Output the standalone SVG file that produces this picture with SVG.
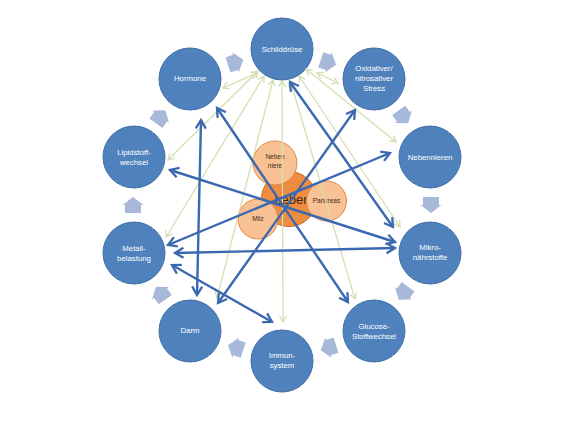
<svg xmlns="http://www.w3.org/2000/svg" width="576" height="432" viewBox="0 0 576 432">
<style>
.node{fill:#4f81bd;stroke:#416fa8;stroke-width:1}
.nt{font-family:"Liberation Sans",Arial,sans-serif;font-size:7.8px;fill:#ffffff;text-anchor:middle}
.ct{font-family:"Liberation Sans",Arial,sans-serif;font-size:6.5px;fill:#3a2a1a;text-anchor:middle}
.small{fill:#f9c294;stroke:#e08a48;stroke-width:1}
.blk{fill:#a7b8d9}
.bl{stroke:#3b69b1;stroke-width:2.4;fill:none;marker-start:url(#bh);marker-end:url(#bh)}
.gl{stroke:#d2dfb3;stroke-width:1.3;fill:none;marker-start:url(#gh);marker-end:url(#gh)}
</style>
<defs>
<marker id="bh" viewBox="-11 -7 14 14" refX="0" refY="0" markerWidth="14" markerHeight="14" markerUnits="userSpaceOnUse" orient="auto-start-reverse">
<path d="M-8.5,-5 L0,0 L-8.5,5" fill="none" stroke="#3b69b1" stroke-width="2.3"/>
</marker>
<marker id="gh" viewBox="-8 -5 10 10" refX="0" refY="0" markerWidth="10" markerHeight="10" markerUnits="userSpaceOnUse" orient="auto-start-reverse">
<path d="M-6,-3.5 L0,0 L-6,3.5" fill="none" stroke="#d2dfb3" stroke-width="1.3"/>
</marker>
<path id="ba" d="M-8,-8 L0,-8 L0,-10.5 L8,0 L0,10.5 L0,8 L-8,8 Z"/>
</defs>
<rect width="576" height="432" fill="#ffffff"/>

<g id="cycle-arrows" class="blk">
<use href="#ba" transform="translate(328.4,62.3) rotate(18)"/>
<use href="#ba" transform="translate(403.4,116.8) rotate(54)"/>
<use href="#ba" transform="translate(431,205) rotate(90)"/>
<use href="#ba" transform="translate(403.4,293.2) rotate(126)"/>
<use href="#ba" transform="translate(328.4,347.7) rotate(162)"/>
<use href="#ba" transform="translate(235.6,347.7) rotate(198)"/>
<use href="#ba" transform="translate(160.6,293.2) rotate(234)"/>
<use href="#ba" transform="translate(133,205) rotate(270)"/>
<use href="#ba" transform="translate(160.6,116.8) rotate(306)"/>
<use href="#ba" transform="translate(235.6,62.3) rotate(342)"/>
</g>

<g id="schilddruese"><circle class="node" cx="282" cy="49" r="31"/><text class="nt" x="282" y="51.5">Schilddrüse</text></g>
<g id="oxidativer-stress"><circle class="node" cx="374" cy="79" r="31"/><text class="nt" x="374" y="70.7">Oxidativer/</text><text class="nt" x="374" y="80.7">nitrosativer</text><text class="nt" x="374" y="90.7">Stress</text></g>
<g id="nebennieren"><circle class="node" cx="430" cy="157" r="31"/><text class="nt" x="430" y="159.5">Nebennieren</text></g>
<g id="mikronaehrstoffe"><circle class="node" cx="430" cy="253" r="31"/><text class="nt" x="430" y="249.5">Mikro-</text><text class="nt" x="430" y="260">nährstoffe</text></g>
<g id="glucose-stoffwechsel"><circle class="node" cx="374" cy="331" r="31"/><text class="nt" x="374" y="328.5">Glucose-</text><text class="nt" x="374" y="338.5">Stoffwechsel</text></g>
<g id="immunsystem"><circle class="node" cx="282" cy="361" r="31"/><text class="nt" x="282" y="357.5">Immun-</text><text class="nt" x="282" y="367.5">system</text></g>
<g id="darm"><circle class="node" cx="190" cy="331" r="31"/><text class="nt" x="190" y="332.5">Darm</text></g>
<g id="metallbelastung"><circle class="node" cx="134" cy="253" r="31"/><text class="nt" x="134" y="250.5">Metall-</text><text class="nt" x="134" y="260.5">belastung</text></g>
<g id="lipidstoffwechsel"><circle class="node" cx="134" cy="157" r="31"/><text class="nt" x="134" y="154.5">Lipidstoff-</text><text class="nt" x="134" y="164.5">wechsel</text></g>
<g id="hormone"><circle class="node" cx="190" cy="79" r="31"/><text class="nt" x="190" y="80.5">Hormone</text></g>

<g id="leber"><circle cx="289" cy="199" r="27.5" fill="#ef8c3f" stroke="#c9661f" stroke-width="1"/><text x="291" y="203.5" font-family="'Liberation Sans',Arial,sans-serif" font-size="13" fill="#3a2412" text-anchor="middle">Leber</text></g>
<g id="nebenniere"><circle class="small" cx="275" cy="163" r="22"/><text class="ct" x="275" y="158.5">Neben</text><text class="ct" x="275" y="168">niere</text></g>
<g id="pankreas"><circle class="small" cx="326.5" cy="201" r="20"/><text class="ct" x="326.5" y="203">Pankreas</text></g>
<g id="milz"><circle class="small" cx="258" cy="219" r="20"/><text class="ct" x="258" y="221">Milz</text></g>

<g id="connectors">
<line class="gl" x1="223" y1="88" x2="257" y2="73"/>
<line class="gl" x1="317" y1="73" x2="338" y2="83"/>
<line class="gl" x1="258" y1="71" x2="168" y2="160"/>
<line class="gl" x1="264" y1="76" x2="166" y2="237"/>
<line class="gl" x1="273" y1="80" x2="217" y2="298"/>
<line class="gl" x1="282" y1="81" x2="283" y2="322"/>
<line class="gl" x1="290" y1="80" x2="355" y2="299"/>
<line class="gl" x1="299" y1="76" x2="400" y2="227"/>
<line class="gl" x1="306" y1="69" x2="396" y2="142"/>
<line class="bl" x1="201" y1="120" x2="197" y2="295"/>
<line class="bl" x1="217" y1="108" x2="348" y2="302"/>
<line class="bl" x1="290" y1="82" x2="393" y2="227"/>
<line class="bl" x1="355" y1="110" x2="218" y2="303"/>
<line class="bl" x1="390" y1="153" x2="168" y2="245"/>
<line class="bl" x1="170" y1="170" x2="395" y2="242"/>
<line class="bl" x1="175" y1="253" x2="395" y2="248"/>
<line class="bl" x1="172" y1="265" x2="272" y2="322"/>
</g>
</svg>
